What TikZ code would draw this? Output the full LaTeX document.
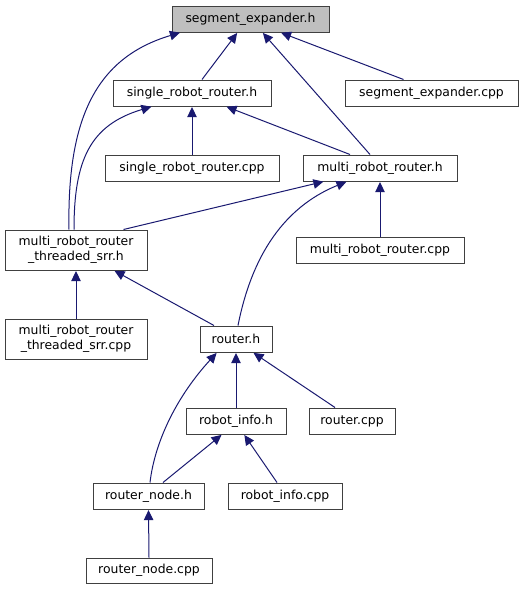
\documentclass[tikz,border=0pt]{standalone}
\usepackage{fontspec}
\setmainfont{DejaVu Sans}
\usetikzlibrary{arrows.meta}
\definecolor{edgecol}{HTML}{191970}
\definecolor{bordercol}{HTML}{404040}
\begin{document}
\begin{tikzpicture}[x=1pt,y=-1pt,
  box/.style={draw=bordercol,line width=1pt,fill=white,inner sep=0pt,
    font=\fontsize{12.4}{15}\selectfont,align=center},
  edge/.style={draw=edgecol,line width=1pt,-{Triangle[length=10pt,width=9.5pt]},color=edgecol,shorten >=0.6pt}]
\useasboundingbox (0,0) rectangle (527,589);
\node[box,fill={rgb,255:red,191;green,191;blue,191},minimum width=157pt,minimum height=26pt] (seh) at (250.5,19) {segment\_expander.h};
\node[box,minimum width=158pt,minimum height=26pt] (srrh) at (192,93) {single\_robot\_router.h};
\node[box,minimum width=173pt,minimum height=26pt] (secpp) at (431.5,93) {segment\_expander.cpp};
\node[box,minimum width=174pt,minimum height=26pt] (srrcpp) at (192,168) {single\_robot\_router.cpp};
\node[box,minimum width=154pt,minimum height=26pt] (mrrh) at (380,168) {multi\_robot\_router.h};
\node[box,minimum width=142pt,minimum height=40pt] (mrrth) at (76,250) {multi\_robot\_router\\\_threaded\_srr.h};
\node[box,minimum width=168pt,minimum height=26pt] (mrrcpp) at (380,250) {multi\_robot\_router.cpp};
\node[box,minimum width=142pt,minimum height=40pt] (mrrtcpp) at (76,339) {multi\_robot\_router\\\_threaded\_srr.cpp};
\node[box,minimum width=72pt,minimum height=26pt] (routerh) at (236,339) {router.h};
\node[box,minimum width=100pt,minimum height=26pt] (rih) at (236,421) {robot\_info.h};
\node[box,minimum width=86pt,minimum height=26pt] (routercpp) at (352,421) {router.cpp};
\node[box,minimum width=111pt,minimum height=26pt] (rnh) at (148.5,496) {router\_node.h};
\node[box,minimum width=114pt,minimum height=26pt] (ricpp) at (285,496) {robot\_info.cpp};
\node[box,minimum width=126pt,minimum height=25pt] (rncpp) at (149,570.5) {router\_node.cpp};
% edges
\draw[edge] ([xshift=-7pt]mrrth.north) .. controls (67,120) and (95,58) .. ([xshift=-70pt]seh.south);
\draw[edge] ([xshift=10pt]srrh.north) -- ([xshift=-13pt]seh.south);
\draw[edge] ([xshift=-10pt]mrrh.north) -- ([xshift=12pt]seh.south);
\draw[edge] ([xshift=-28pt]secpp.north) -- ([xshift=30pt]seh.south);
\draw[edge] ([xshift=-2pt]mrrth.north) .. controls (74,160) and (90,125) .. ([xshift=-40pt]srrh.south);
\draw[edge] (srrcpp.north) -- (srrh.south);
\draw[edge] ([xshift=-30pt]mrrh.north) -- ([xshift=34pt]srrh.south);
\draw[edge] ([xshift=-24pt]mrrth.north east) -- ([xshift=-56pt]mrrh.south);
\draw[edge] ([xshift=2pt]routerh.north) .. controls (248,275) and (272,212) .. ([xshift=-33pt]mrrh.south);
\draw[edge] (mrrcpp.north) -- (mrrh.south);
\draw[edge] (mrrtcpp.north) -- (mrrth.south);
\draw[edge] ([xshift=-22pt]routerh.north) -- ([xshift=38pt]mrrth.south);
\draw[edge] ([xshift=1.5pt]rnh.north) .. controls (155,440) and (178,395) .. ([xshift=-19pt]routerh.south);
\draw[edge] (rih.north) -- (routerh.south);
\draw[edge] ([xshift=-17pt]routercpp.north) -- ([xshift=17pt]routerh.south);
\draw[edge] ([xshift=14.5pt]rnh.north) -- ([xshift=-14pt]rih.south);
\draw[edge] ([xshift=-8pt]ricpp.north) -- ([xshift=8pt]rih.south);
\draw[edge] (rncpp.north) -- (rnh.south);
\end{tikzpicture}
\end{document}
